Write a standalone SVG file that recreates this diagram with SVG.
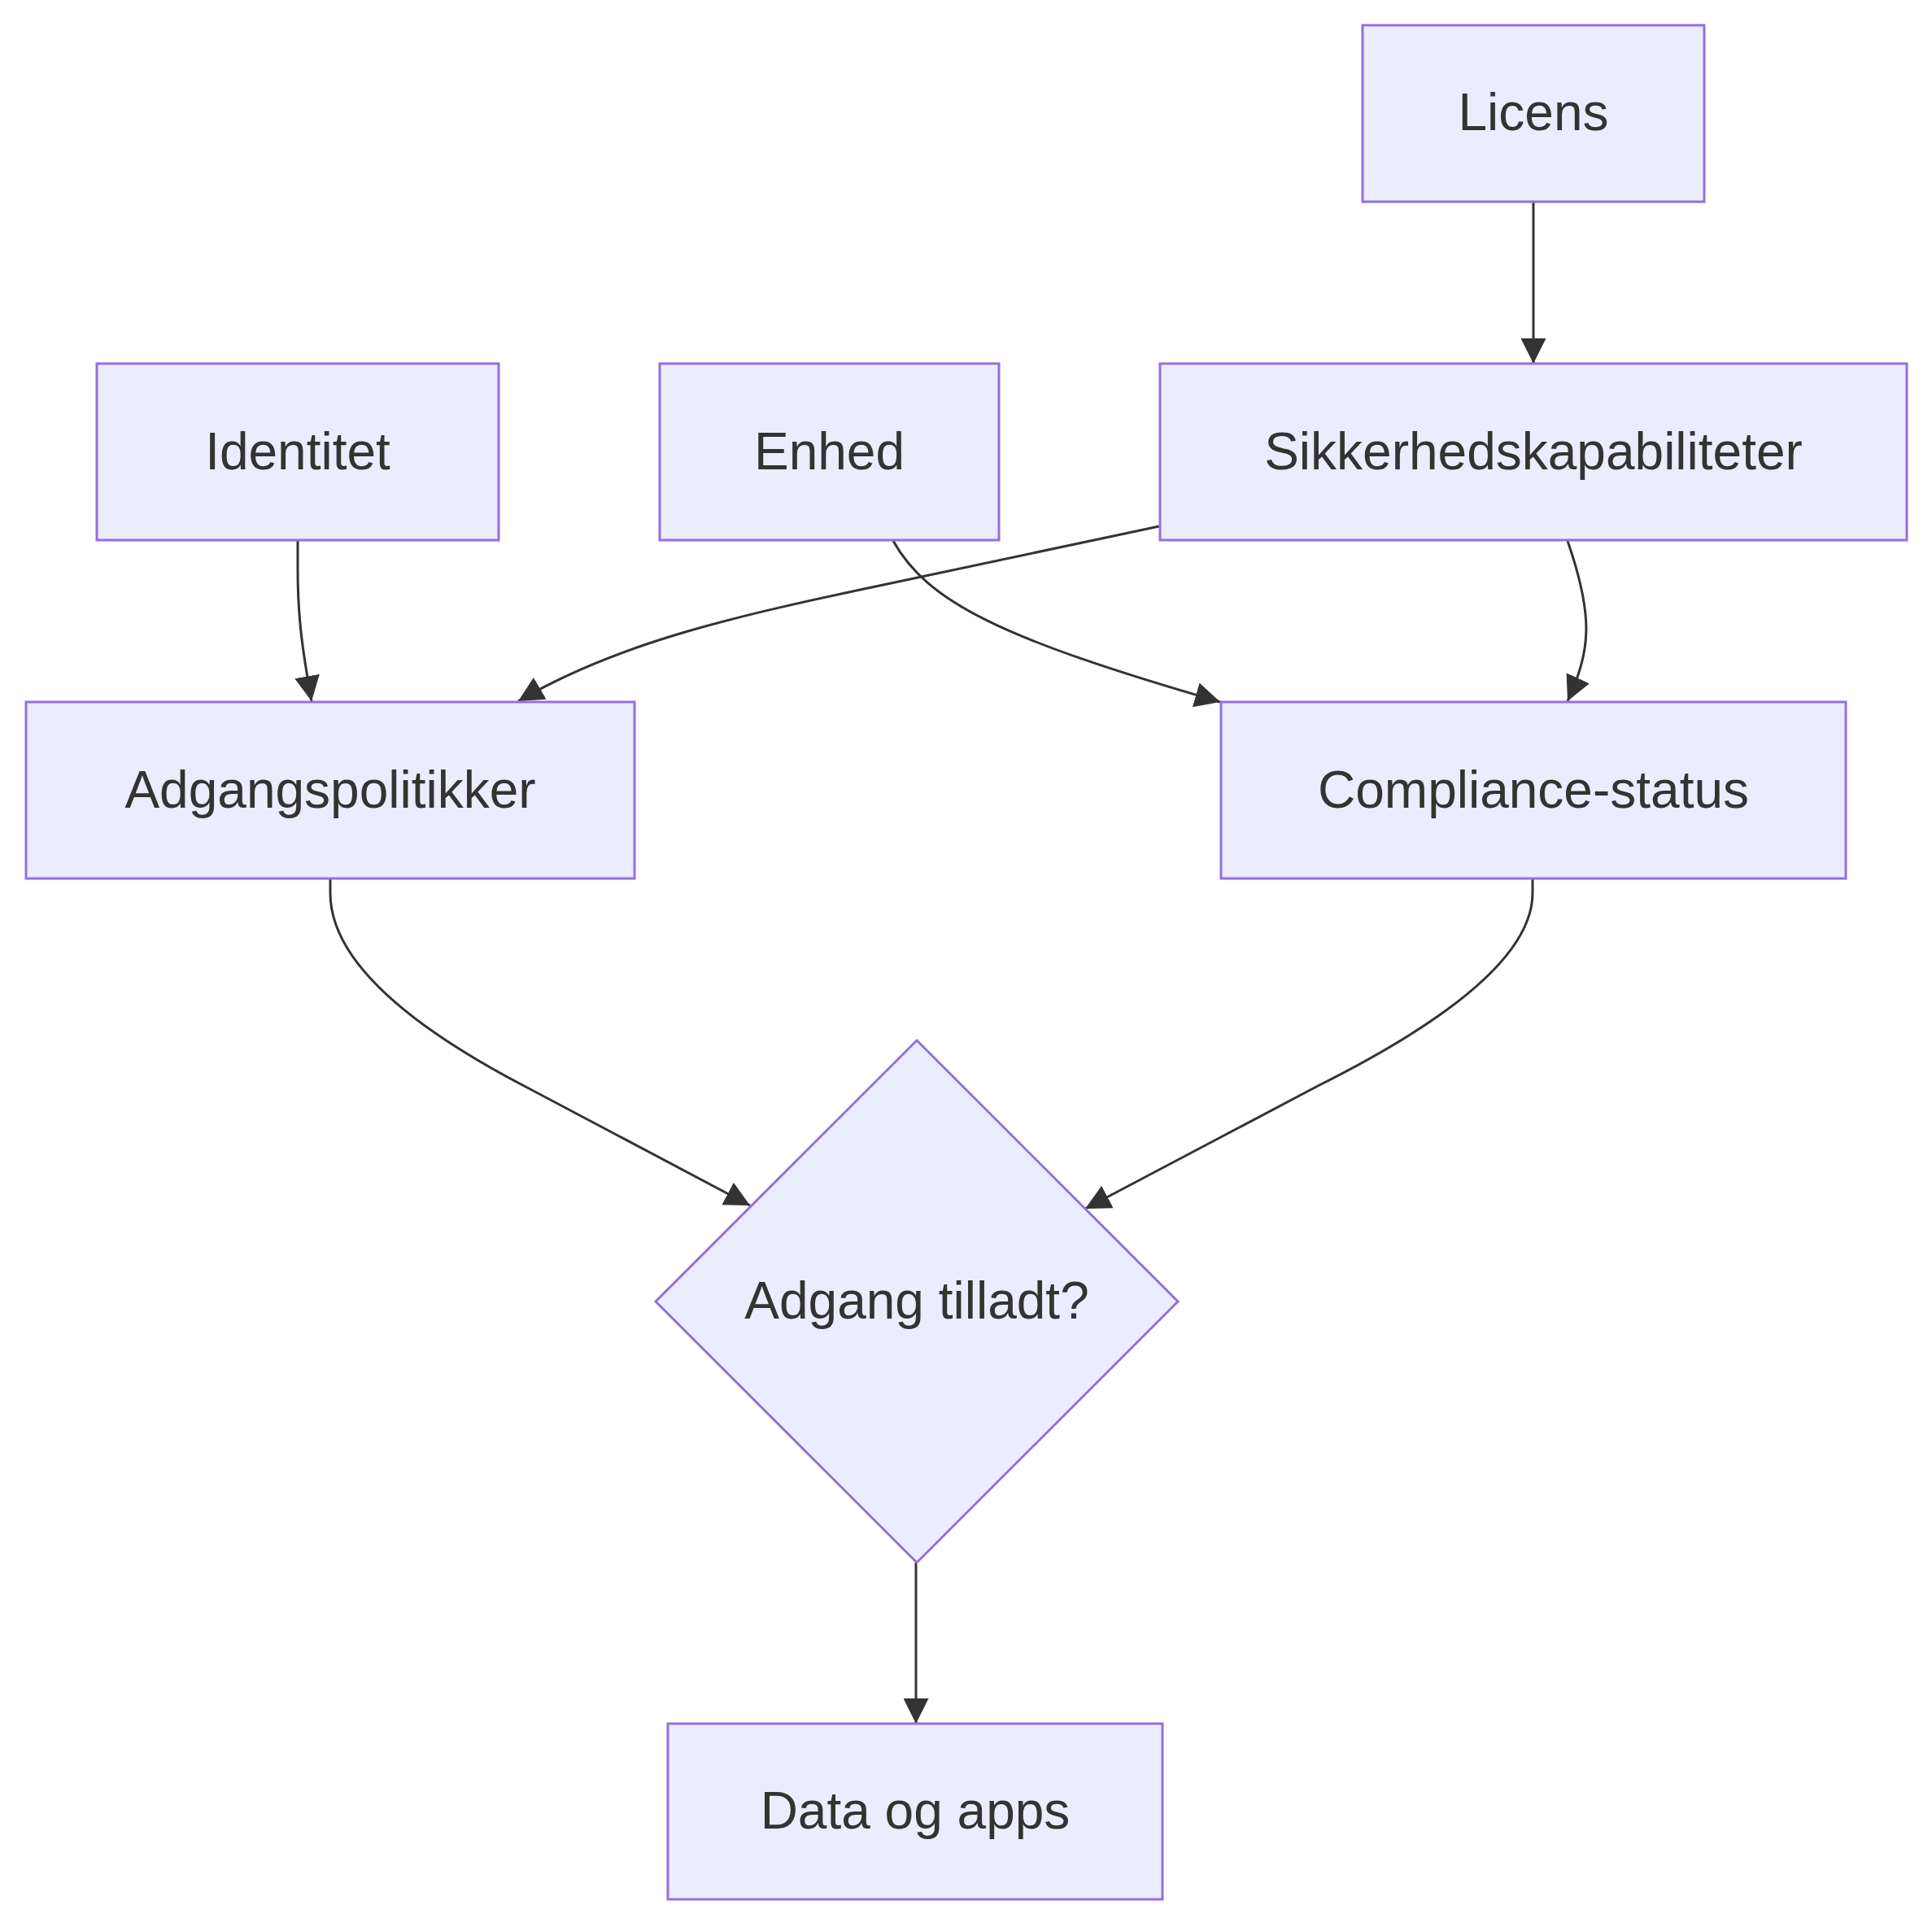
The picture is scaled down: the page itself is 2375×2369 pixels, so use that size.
<svg xmlns="http://www.w3.org/2000/svg" width="2375" height="2369" viewBox="0 0 2375 2369">
<style>
.node rect, .node polygon { fill: #ECECFF; stroke: #9370DB; stroke-width: 3; }
.node text { font-family: "Liberation Sans", Arial, sans-serif; font-size: 64px; fill: #333333; text-anchor: middle; }
.edge { fill: none; stroke: #333333; stroke-width: 3; marker-end: url(#arrow); }
</style>
<defs>
<marker id="arrow" viewBox="0 0 10 10" refX="10" refY="5" markerUnits="userSpaceOnUse" markerWidth="31" markerHeight="31" orient="auto">
<path d="M0,0 L10,5 L0,10 z" fill="#333333"/>
</marker>
</defs>
<rect width="2375" height="2369" fill="#ffffff"/>
<g id="connectors">
<path class="edge" d="M1885,248 L1885,447"/>
<path class="edge" d="M366,664 L366,700 C366,760 372,800 383,862"/>
<path class="edge" d="M1425,647 L1100,716 C900,758 760,790 637,862"/>
<path class="edge" d="M1098,665 C1140,740 1230,785 1500,863"/>
<path class="edge" d="M1927,665 C1960,760 1955,800 1927,862"/>
<path class="edge" d="M406,1080 L406,1098 C406,1170 480,1250 650,1338 L922,1482"/>
<path class="edge" d="M1884,1080 L1884,1098 C1884,1170 1790,1250 1620,1335 L1334,1486"/>
<path class="edge" d="M1126,1921 L1126,2119"/>
</g>
<g id="licens" class="node">
<rect x="1675" y="31" width="420" height="217"/>
<text x="1885" y="160">Licens</text>
</g>
<g id="identitet" class="node">
<rect x="119" y="447" width="494" height="217"/>
<text x="366" y="577">Identitet</text>
</g>
<g id="enhed" class="node">
<rect x="811" y="447" width="417" height="217"/>
<text x="1019.5" y="577">Enhed</text>
</g>
<g id="sikkerhed" class="node">
<rect x="1426" y="447" width="918" height="217"/>
<text x="1885" y="577">Sikkerhedskapabiliteter</text>
</g>
<g id="adgangspolitikker" class="node">
<rect x="32" y="863" width="748" height="217"/>
<text x="406" y="993">Adgangspolitikker</text>
</g>
<g id="compliance" class="node">
<rect x="1501" y="863" width="768" height="217"/>
<text x="1885" y="993">Compliance-status</text>
</g>
<g id="beslutning" class="node">
<polygon points="1127,1279 1448,1600 1127,1921 806,1600"/>
<text x="1127" y="1621">Adgang tilladt?</text>
</g>
<g id="data" class="node">
<rect x="821" y="2119" width="608" height="216"/>
<text x="1125" y="2248">Data og apps</text>
</g>
</svg>
